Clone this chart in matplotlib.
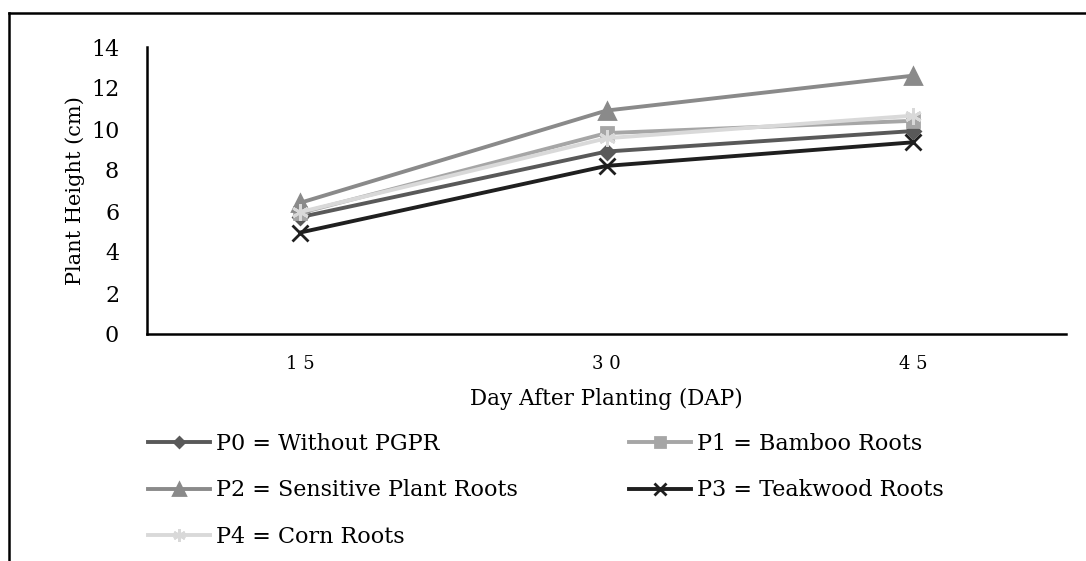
import matplotlib
matplotlib.use("Agg")
import matplotlib.pyplot as plt
from matplotlib.lines import Line2D

# days after planting (categories)
days = ["15", "30", "45"]

# plant height (cm) per treatment
p0 = [5.7, 8.9, 9.9]
p1 = [5.9, 9.8, 10.4]
p2 = [6.4, 10.9, 12.6]
p3 = [4.95, 8.2, 9.35]
p4 = [5.95, 9.55, 10.65]

names = ["P0 = Without PGPR", "P1 = Bamboo Roots", "P2 = Sensitive Plant Roots",
         "P3 = Teakwood Roots", "P4 = Corn Roots"]
series = [p0, p1, p2, p3, p4]
colors = ["#595959", "#a6a6a6", "#8a8a8a", "#1f1f1f", "#d9d9d9"]
markers = ["D", "s", "^", "x", (6, 2, 0)]
msizes = [7, 9, 11, 11, 12]

SERIF = "DejaVu Serif"

fig = plt.figure(figsize=(10.86, 5.61), dpi=100)
ax = fig.add_axes([147/1086, 1-334/561, (1066-147)/1086, (334-47)/561])

xs = list(range(len(days)))
handles = []
for vals, name, c, m, ms in zip(series, names, colors, markers, msizes):
    h, = ax.plot(xs, vals, color=c, lw=2.8, marker=m, markersize=ms,
                 markeredgecolor=c, markerfacecolor=c, markeredgewidth=2,
                 label=name)
    handles.append(h)

ax.set_xlim(-0.5, 2.5)
ax.set_ylim(0, 14)
ax.set_yticks(range(0, 15, 2))
ax.set_xticks(xs)
ax.set_xticklabels([" ".join(d) for d in days], family=SERIF, fontsize=13)
for lab in ax.get_yticklabels():
    lab.set_family(SERIF)
    lab.set_fontsize(16)
ax.tick_params(axis="y", length=0, pad=20)
ax.tick_params(axis="x", length=0, pad=15)

for s in ["top", "right"]:
    ax.spines[s].set_visible(False)
for s in ["left", "bottom"]:
    ax.spines[s].set_linewidth(1.8)
    ax.spines[s].set_color("black")

ax.set_ylabel("Plant Height (cm)", family=SERIF, fontsize=15, labelpad=4)
ax.set_xlabel("Day After Planting (DAP)", family=SERIF, fontsize=15.5, labelpad=11)

order = [0, 2, 4, 1, 3]
fig.legend([handles[i] for i in order], [names[i] for i in order],
           ncol=2, loc="upper left", bbox_to_anchor=(148/1086, 1-433/561),
           frameon=False, prop={"family": SERIF, "size": 16}, markerscale=0.75,
           handlelength=2.8, handletextpad=0.25, columnspacing=5.0,
           labelspacing=1.1, borderaxespad=0, borderpad=0)

# figure frame (left and top edges)
fig.add_artist(Line2D([9/1086, 9/1086], [0, 1-13/561], color="black", lw=1.8,
                      transform=fig.transFigure))
fig.add_artist(Line2D([9/1086, 1], [1-13/561, 1-13/561], color="black", lw=1.8,
                      transform=fig.transFigure))

fig.savefig("out.png", dpi=100)
